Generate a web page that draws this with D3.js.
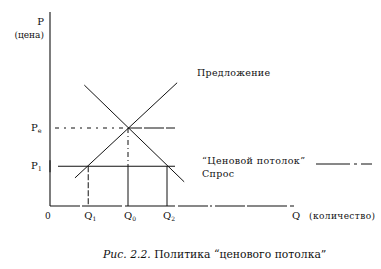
<!DOCTYPE html>
<html><head><meta charset="utf-8">
<script src="https://cdn.jsdelivr.net/npm/d3@7"></script>
<style>
html,body{margin:0;padding:0;background:#fff;}
svg{display:block;}
text{font-family:"DejaVu Serif","Liberation Serif",serif;fill:#111;}
</style></head>
<body>
<svg id="c" width="381" height="269"></svg>
<script>
// ---- data ----
const supplyQ = [1.6, 8.15];
const supplyP = [1.8, 7.9];
const demandQ = [2.2, 8.6];
const demandP = [7.75, 1.55];
const Q0 = 5.0, Pe = 5.0;      // equilibrium
const Q1 = 2.45, Q2 = 7.5;     // quantities at price ceiling
const P1 = 2.55;               // price ceiling
const qTickLabels = ["Q", "Q", "Q"];
const qTickSubs = ["1", "0", "2"];
const qTickValues = [Q1, Q0, Q2];
const pTickLabels = ["P", "P"];
const pTickSubs = ["e", "1"];
const pTickValues = [Pe, P1];
const curveLabels = ["Предложение", "\u201CЦеновой потолок\u201D", "Спрос"];
const axisLabels = ["P", "(цена)", "Q", "(количество)", "0"];
const captionNum = "Рис. 2.2.";
const captionText = "Политика \u201Cценового потолка\u201D";

const svg = d3.select("#c");
const x = d3.scaleLinear().domain([0, 10]).range([50, 206]);
const y = d3.scaleLinear().domain([0, 10]).range([206, 50]);

const stroke = "#111";
// axes
svg.append("line").attr("x1", x(0)).attr("x2", x(0)).attr("y1", 12).attr("y2", y(0))
  .attr("stroke", stroke).attr("stroke-width", 1.1);
svg.append("line").attr("x1", x(0)).attr("x2", 294).attr("y1", y(0)).attr("y2", y(0))
  .attr("stroke", stroke).attr("stroke-width", 1.1).attr("stroke-dasharray", "30,2,40,3,50,3,30,2,2,3");

// supply & demand
const line = d3.line().x(d => x(d[0])).y(d => y(d[1]));
svg.append("path").datum(d3.zip(supplyQ, supplyP)).attr("d", line)
  .attr("stroke", stroke).attr("stroke-width", 1).attr("fill", "none");
svg.append("path").datum(d3.zip(demandQ, demandP)).attr("d", line)
  .attr("stroke", stroke).attr("stroke-width", 1).attr("fill", "none");

// equilibrium price line (dashed left, solid right)
svg.append("line").attr("x1", x(0) + 5).attr("x2", x(Q0)).attr("y1", y(Pe)).attr("y2", y(Pe))
  .attr("stroke", stroke).attr("stroke-dasharray", "4,5,2,5");
svg.append("line").attr("x1", x(Q0)).attr("x2", x(Q2) + 8).attr("y1", y(Pe)).attr("y2", y(Pe))
  .attr("stroke", stroke).attr("stroke-dasharray", "14,2,20,2");
// price ceiling line
svg.append("line").attr("x1", x(0) + 8).attr("x2", x(Q2) + 8).attr("y1", y(P1)).attr("y2", y(P1))
  .attr("stroke", stroke).attr("stroke-width", 1.1);
// vertical drops
svg.append("line").attr("x1", x(Q0)).attr("x2", x(Q0)).attr("y1", y(Pe)).attr("y2", y(P1))
  .attr("stroke", stroke).attr("stroke-dasharray", "5,3,1,3");
[Q1, Q0, Q2].forEach((q, i) => {
  svg.append("line").attr("x1", x(q)).attr("x2", x(q)).attr("y1", y(P1)).attr("y2", y(0))
    .attr("stroke", stroke).attr("stroke-width", 1)
    .attr("stroke-dasharray", i === 0 ? "6,2" : null);
});
svg.append("line").attr("x1", x(0)).attr("x2", x(0)).attr("y1", y(P1) - 6).attr("y2", y(P1) + 6)
  .attr("stroke", stroke).attr("stroke-width", 1);

// ceiling legend dash
svg.append("line").attr("x1", 316).attr("x2", 350).attr("y1", 164).attr("y2", 164)
  .attr("stroke", stroke).attr("stroke-width", 1);
svg.append("line").attr("x1", 354).attr("x2", 357).attr("y1", 164).attr("y2", 164)
  .attr("stroke", stroke).attr("stroke-width", 1);
svg.append("line").attr("x1", 361).attr("x2", 372).attr("y1", 164).attr("y2", 164)
  .attr("stroke", stroke).attr("stroke-width", 1);

// tick labels
const fs = 10;
qTickValues.forEach((v, i) => {
  const t = svg.append("text").attr("x", x(v) - 4).attr("y", 219).attr("font-size", fs);
  t.append("tspan").text(qTickLabels[i]);
  t.append("tspan").attr("font-size", 6).attr("dy", 2).text(qTickSubs[i]);
});
pTickValues.forEach((v, i) => {
  const t = svg.append("text").attr("x", 31).attr("y", y(v) + 3).attr("font-size", fs);
  t.append("tspan").text(pTickLabels[i]);
  t.append("tspan").attr("font-size", 6.5).attr("dy", 2).text(pTickSubs[i]);
});
svg.append("text").attr("x", 45).attr("y", 219).attr("font-size", 9).text(axisLabels[4]);

// axis labels
svg.append("text").attr("x", 44).attr("y", 25).attr("text-anchor", "end").attr("font-size", fs).text(axisLabels[0]);
svg.append("text").attr("x", 44).attr("y", 38).attr("text-anchor", "end").attr("font-size", 9).text(axisLabels[1]);
svg.append("text").attr("x", 292).attr("y", 219).attr("font-size", fs).text(axisLabels[2]);
svg.append("text").attr("x", 309).attr("y", 219).attr("font-size", 9).attr("textLength", 66).text(axisLabels[3]);

// curve labels
svg.append("text").attr("x", 197).attr("y", 76).attr("font-size", 9.5).attr("textLength", 73).text(curveLabels[0]);
svg.append("text").attr("x", 202).attr("y", 164).attr("font-size", 9.5).attr("textLength", 103).text(curveLabels[1]);
svg.append("text").attr("x", 202).attr("y", 177).attr("font-size", 9.5).attr("textLength", 32).text(curveLabels[2]);

// caption
const cap = svg.append("text").attr("x", 103).attr("y", 258).attr("font-size", 10.8);
cap.append("tspan").attr("font-style", "italic").text(captionNum + " ");
cap.append("tspan").text(captionText);
</script>
</body></html>
